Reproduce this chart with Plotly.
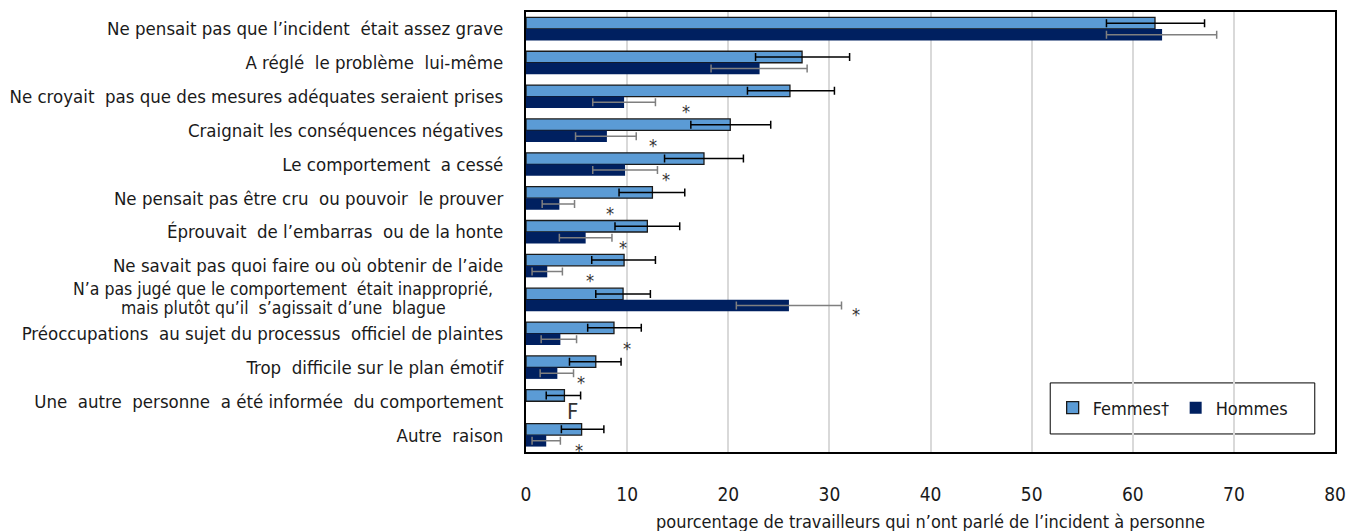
import plotly.graph_objects as go

categories = [
    "Ne pensait pas que l’incident  était assez grave",
    "A réglé  le problème  lui-même",
    "Ne croyait  pas que des mesures adéquates seraient prises",
    "Craignait les conséquences négatives",
    "Le comportement  a cessé",
    "Ne pensait pas être cru  ou pouvoir  le prouver",
    "Éprouvait  de l’embarras  ou de la honte",
    "Ne savait pas quoi faire ou où obtenir de l’aide",
    "N’a pas jugé que le comportement  était inapproprié,|mais plutôt qu’il  s’agissait d’une  blague",
    "Préoccupations  au sujet du processus  officiel de plaintes",
    "Trop  difficile sur le plan émotif",
    "Une  autre  personne  a été informée  du comportement",
    "Autre  raison",
]

femmes = [62.2, 27.3, 26.1, 20.2, 17.6, 12.5, 12.0, 9.7, 9.6, 8.7, 6.9, 3.8, 5.5]
femmes_low = [57.4, 22.7, 21.9, 16.3, 13.7, 9.2, 8.8, 6.5, 6.9, 6.1, 4.3, 2.0, 3.5]
femmes_high = [67.1, 32.0, 30.5, 24.2, 21.5, 15.7, 15.2, 12.8, 12.3, 11.4, 9.4, 5.4, 7.7]

hommes = [62.9, 23.1, 9.7, 8.0, 9.8, 3.3, 5.9, 2.1, 26.0, 3.4, 3.1, None, 2.0]
hommes_low = [57.4, 18.3, 6.6, 4.9, 6.6, 1.6, 3.3, 0.6, 20.8, 1.5, 1.4, None, 0.6]
hommes_high = [68.3, 27.8, 12.8, 10.9, 13.0, 4.8, 8.5, 3.6, 31.2, 5.0, 4.7, None, 3.4]

# significance markers for Hommes (text, x position in %)
marks = ["", "", "*", "*", "*", "*", "*", "*", "*", "*", "*", "F", "*"]
mark_x = [None, None, 15.8, 12.6, 13.8, 8.3, 9.6, 6.3, 32.6, 10.0, 5.4, 4.6, 5.2]

x_title = "pourcentage de travailleurs qui n’ont parlé de l’incident à personne"


def err(vals, lo, hi):
    plus = [h - v if v is not None else None for v, h in zip(vals, hi)]
    minus = [v - l if v is not None else None for v, l in zip(vals, lo)]
    return plus, minus


fp, fm = err(femmes, femmes_low, femmes_high)
hp, hm = err(hommes, hommes_low, hommes_high)

FONT = "DejaVu Sans Condensed, Liberation Sans Narrow, Arial Narrow, sans-serif"
TXT = "#1a1a1a"

fig = go.Figure()
fig.add_trace(go.Bar(
    y=categories, x=femmes, orientation="h", name="Femmes†",
    marker=dict(color="#5B9BD5", line=dict(color="#1a1a1a", width=1.3)),
    error_x=dict(type="data", array=fp, arrayminus=fm, color="#000000",
                 thickness=1.5, width=4),
))
fig.add_trace(go.Bar(
    y=categories, x=hommes, orientation="h", name="Hommes",
    marker=dict(color="#002060", line=dict(width=0)),
    error_x=dict(type="data", array=hp, arrayminus=hm, color="#7F7F7F",
                 thickness=1.5, width=4),
))

for c, m, mx in zip(categories, marks, mark_x):
    if m:
        fig.add_annotation(
            x=mx, y=c, text=m, showarrow=False,
            font=dict(family=FONT, size=22 if m == "F" else 18, color="#333333"),
            yshift=-15 if m == "*" else -10, xanchor="center", yanchor="middle",
        )

# tick labels: multi-line label drawn as centred lines
ticktext = []
for c in categories:
    if "|" in c:
        ticktext.append("")
        parts = c.split("|")
        for i, p in enumerate(parts):
            fig.add_annotation(
                xref="paper", x=-0.3, y=c, text=p, showarrow=False,
                xanchor="center", yanchor="middle",
                yshift=11 - i * 19,
                font=dict(family=FONT, size=17.5, color=TXT),
            )
    else:
        ticktext.append(c)

# x-axis title
fig.add_annotation(xref="paper", yref="paper", x=0.5, y=-0.159, text=x_title,
                   showarrow=False, xanchor="center", yanchor="middle",
                   font=dict(family=FONT, size=18, color=TXT))

# legend frame
fig.add_shape(type="rect", xref="paper", yref="paper",
              x0=0.648, x1=0.975, y0=0.041, y1=0.157,
              line=dict(color="#000000", width=1), fillcolor="white", layer="below")

fig.update_layout(
    width=1348, height=531,
    margin=dict(l=526, r=13, t=12, b=79),
    paper_bgcolor="white", plot_bgcolor="white",
    barmode="group", bargap=0.32, bargroupgap=0.0,
    font=dict(family=FONT, size=16, color=TXT),
    showlegend=True,
    legend=dict(orientation="h", x=0.651, y=0.1, xanchor="left", yanchor="middle",
                bgcolor="rgba(0,0,0,0)", borderwidth=0,
                font=dict(family=FONT, size=18, color=TXT),
                entrywidth=78, traceorder="normal"),
    xaxis=dict(range=[0, 80], dtick=10, tick0=0, showgrid=True, gridcolor="#D9D9D9",
               gridwidth=1.5, zeroline=False, showline=True, linecolor="#000000",
               linewidth=2, mirror=True, ticks="", ticklabelstandoff=24,
               automargin=False,
               tickfont=dict(family=FONT, size=19, color=TXT)),
    yaxis=dict(autorange="reversed", showline=True, linecolor="#000000", linewidth=2,
               mirror=True, ticks="", ticklabelstandoff=17, showgrid=False,
               automargin=False, tickmode="array", tickvals=categories,
               ticktext=ticktext,
               tickfont=dict(family=FONT, size=18.5, color=TXT)),
)

fig.write_html("out.html")
